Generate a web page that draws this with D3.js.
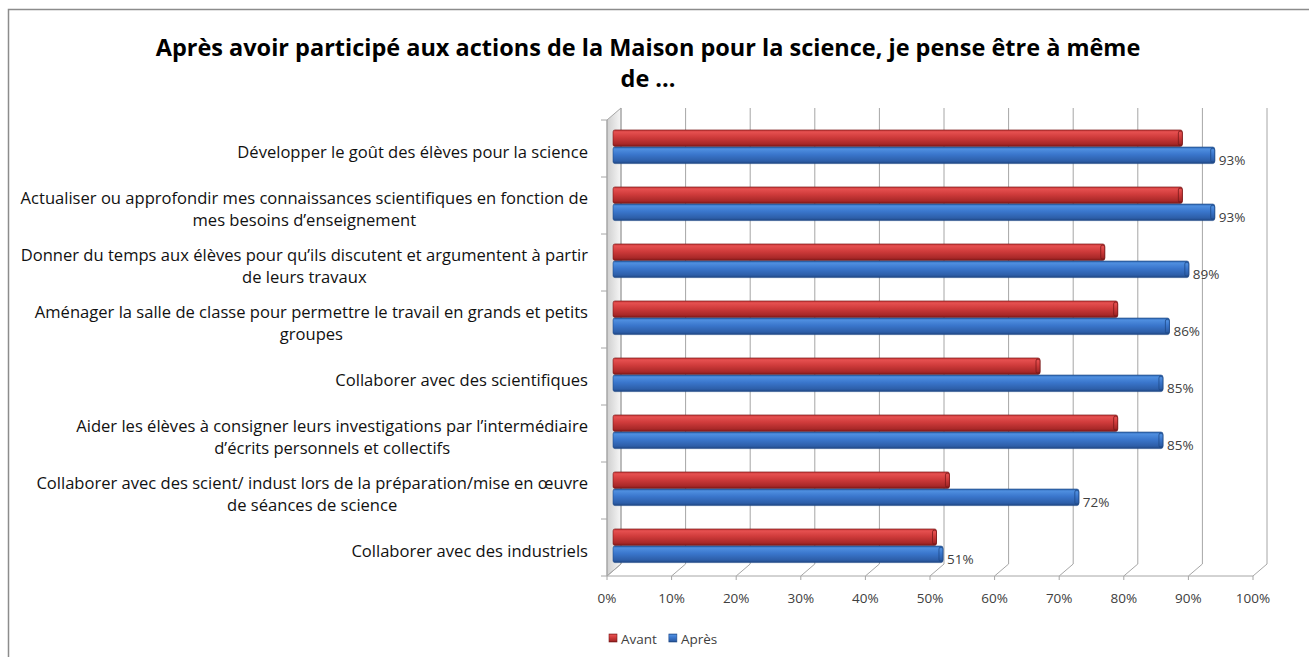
<!DOCTYPE html>
<html>
<head>
<meta charset="utf-8">
<script src="https://cdn.jsdelivr.net/npm/d3@7"></script>
<style>
  body { margin: 0; background: #fff; }
  text { font-family: "Open Sans", Lato, sans-serif; }
</style>
</head>
<body>
<svg id="chart" width="1309" height="657"></svg>
<script>
// categories, one entry per line of the label
const categories = [
  ["Développer le goût des élèves pour la science"],
  ["Actualiser ou approfondir mes connaissances scientifiques en fonction de", "mes besoins d’enseignement"],
  ["Donner du temps aux élèves pour qu’ils discutent et argumentent à partir", "de leurs travaux"],
  ["Aménager la salle de classe pour permettre le travail en grands et petits", "groupes"],
  ["Collaborer avec des scientifiques"],
  ["Aider les élèves à consigner leurs investigations par l’intermédiaire", "d’écrits personnels et collectifs"],
  ["Collaborer avec des scient/ indust lors de la préparation/mise en œuvre", "de séances de science"],
  ["Collaborer avec des industriels"]
];
const series = ["Avant", "Après"];
const avant = [0.88, 0.88, 0.76, 0.78, 0.66, 0.78, 0.52, 0.50];
const apres = [0.93, 0.93, 0.89, 0.86, 0.85, 0.85, 0.72, 0.51];
const xTicks = [0, 0.1, 0.2, 0.3, 0.4, 0.5, 0.6, 0.7, 0.8, 0.9, 1];
const title = ["Après avoir participé aux actions de la Maison pour la science, je pense être à même", "de ..."];

const svg = d3.select("#chart");
const keys = categories.map((c, i) => "c" + i);
const values = { Avant: avant, "Après": apres };

// 3D frame: front plane and back wall offset
const dx = 14, dy = -12;
const floorY = 576, topY = 120;
const xFront = d3.scaleLinear().domain([0, 1]).range([607, 1253]);
const xBar = d3.scaleLinear().domain([0, 1]).range([613, 1260]);
const y0 = d3.scaleBand().domain(keys).range([118.5, 574.5]).paddingInner(0.4).paddingOuter(0.2);
const y1 = d3.scaleBand().domain(series).range([0, y0.bandwidth()]);

// font size so that a text fits a given width
function fitSize(str, target, weight) {
  const t = svg.append("text").attr("font-size", 20).attr("font-weight", weight).text(str);
  const w = t.node().getComputedTextLength();
  t.remove();
  return 20 * target / w;
}

// gradients
const defs = svg.append("defs");
function vgrad(id, stops) {
  const g = defs.append("linearGradient").attr("id", id)
    .attr("x1", 0).attr("y1", 0).attr("x2", 0).attr("y2", 1);
  stops.forEach(s => g.append("stop").attr("offset", s[0]).attr("stop-color", s[1]));
}
vgrad("g-Avant", [[0, "#b83030"], [0.12, "#e65050"], [0.45, "#cf3b3b"], [0.85, "#a82828"], [1, "#7a1616"]]);
vgrad("g-Après", [[0, "#2a5fa8"], [0.12, "#4f8fe0"], [0.45, "#3a76cc"], [0.85, "#2d5ea8"], [1, "#1d4480"]]);
const wall = defs.append("linearGradient").attr("id", "wall").attr("x1", 0).attr("x2", 1).attr("y1", 0).attr("y2", 0);
wall.append("stop").attr("offset", 0).attr("stop-color", "#cfcfcf");
wall.append("stop").attr("offset", 1).attr("stop-color", "#f6f6f6");

const edge = { Avant: "#7a1a1a", "Après": "#1f4a88" };

// chart border
svg.append("rect")
  .attr("x", 8.5).attr("y", 9.5).attr("width", 1400).attr("height", 700)
  .attr("fill", "none").attr("stroke", "#8c8c8c").attr("stroke-width", 1.5);

// left side wall
svg.append("path")
  .attr("d", `M${xFront(0)},${topY}L${xFront(0) + dx},${topY + dy}L${xFront(0) + dx},${floorY + dy}L${xFront(0)},${floorY}Z`)
  .attr("fill", "url(#wall)").attr("stroke", "#a6a6a6");

// back wall gridlines and floor
const grid = svg.append("g").attr("stroke", "#a6a6a6").attr("fill", "none");
xTicks.forEach(v => {
  grid.append("path")
    .attr("d", `M${xFront(v) + dx},${topY + dy}V${floorY + dy}L${xFront(v)},${floorY}V${floorY + 4}`);
});
grid.append("line")
  .attr("x1", xFront(0)).attr("x2", xFront(1))
  .attr("y1", floorY).attr("y2", floorY);

// front vertical axis with ticks between categories
grid.append("line")
  .attr("x1", xFront(0)).attr("x2", xFront(0))
  .attr("y1", topY).attr("y2", floorY);
d3.range(categories.length + 1).forEach(k => {
  const yy = floorY - k * y0.step();
  grid.append("line").attr("x1", xFront(0) - 6).attr("x2", xFront(0)).attr("y1", yy).attr("y2", yy);
});

// bars
const bars = svg.append("g");
keys.forEach((k, i) => {
  series.forEach(s => {
    const v = values[s][i];
    const y = y0(k) + y1(s);
    const h = y1.bandwidth() - 0.5;
    bars.append("rect")
      .attr("x", xBar(0)).attr("y", y)
      .attr("width", xBar(v) - xBar(0)).attr("height", h)
      .attr("rx", 2)
      .attr("fill", `url(#g-${s})`)
      .attr("stroke", edge[s]).attr("stroke-width", 0.6);
    // rounded end cap
    bars.append("rect")
      .attr("x", xBar(v) - 4).attr("y", y + 1)
      .attr("width", 4).attr("height", h - 2)
      .attr("rx", 2)
      .attr("fill", `url(#g-${s})`)
      .attr("stroke", edge[s]).attr("stroke-width", 0.8);
  });
});

// value labels on Après bars
keys.forEach((k, i) => {
  svg.append("text")
    .attr("x", xBar(apres[i]) + 4)
    .attr("y", y0(k) + y1("Après") + y1.bandwidth() / 2 + 9)
    .attr("font-size", 13.5).attr("fill", "#404040")
    .text(d3.format(".0%")(apres[i]));
});

// x tick labels
xTicks.forEach(v => {
  svg.append("text")
    .attr("x", xFront(v)).attr("y", 603)
    .attr("text-anchor", "middle")
    .attr("font-size", 13.5).attr("fill", "#404040")
    .text(d3.format(".0%")(v));
});

// category labels: block right-aligned, lines centred in the block
const labelRight = 588, lineH = 22.5;
const labelSize = fitSize(categories[1][0], 568, "normal");
keys.forEach((k, i) => {
  const lines = categories[i];
  const g = svg.append("g");
  const texts = lines.map(t => g.append("text")
    .attr("font-size", labelSize).attr("fill", "#111").text(t));
  const w = d3.max(texts, t => t.node().getComputedTextLength());
  const cy = y0(k) + y0.bandwidth() / 2 + 6;
  texts.forEach((t, j) => {
    t.attr("text-anchor", "middle")
      .attr("x", labelRight - w / 2)
      .attr("y", cy + (j - (lines.length - 1) / 2) * lineH + 5);
  });
});

// title
const titleSize = fitSize(title[0], 985, "bold");
title.forEach((t, j) => {
  svg.append("text")
    .attr("x", 648).attr("y", 56 + j * 31)
    .attr("text-anchor", "middle")
    .attr("font-size", titleSize).attr("font-weight", "bold").attr("fill", "#000")
    .text(t);
});

// legend
const legend = svg.append("g").attr("transform", "translate(609,634)");
let lx = 0;
series.forEach(s => {
  legend.append("rect").attr("x", lx).attr("y", 0).attr("width", 8).attr("height", 8)
    .attr("fill", `url(#g-${s})`).attr("stroke", edge[s]).attr("stroke-width", 0.6);
  const t = legend.append("text").attr("x", lx + 12).attr("y", 9.5)
    .attr("font-size", 13.5).attr("fill", "#404040").text(s);
  lx += 12 + t.node().getComputedTextLength() + 12;
});
</script>
</body>
</html>
